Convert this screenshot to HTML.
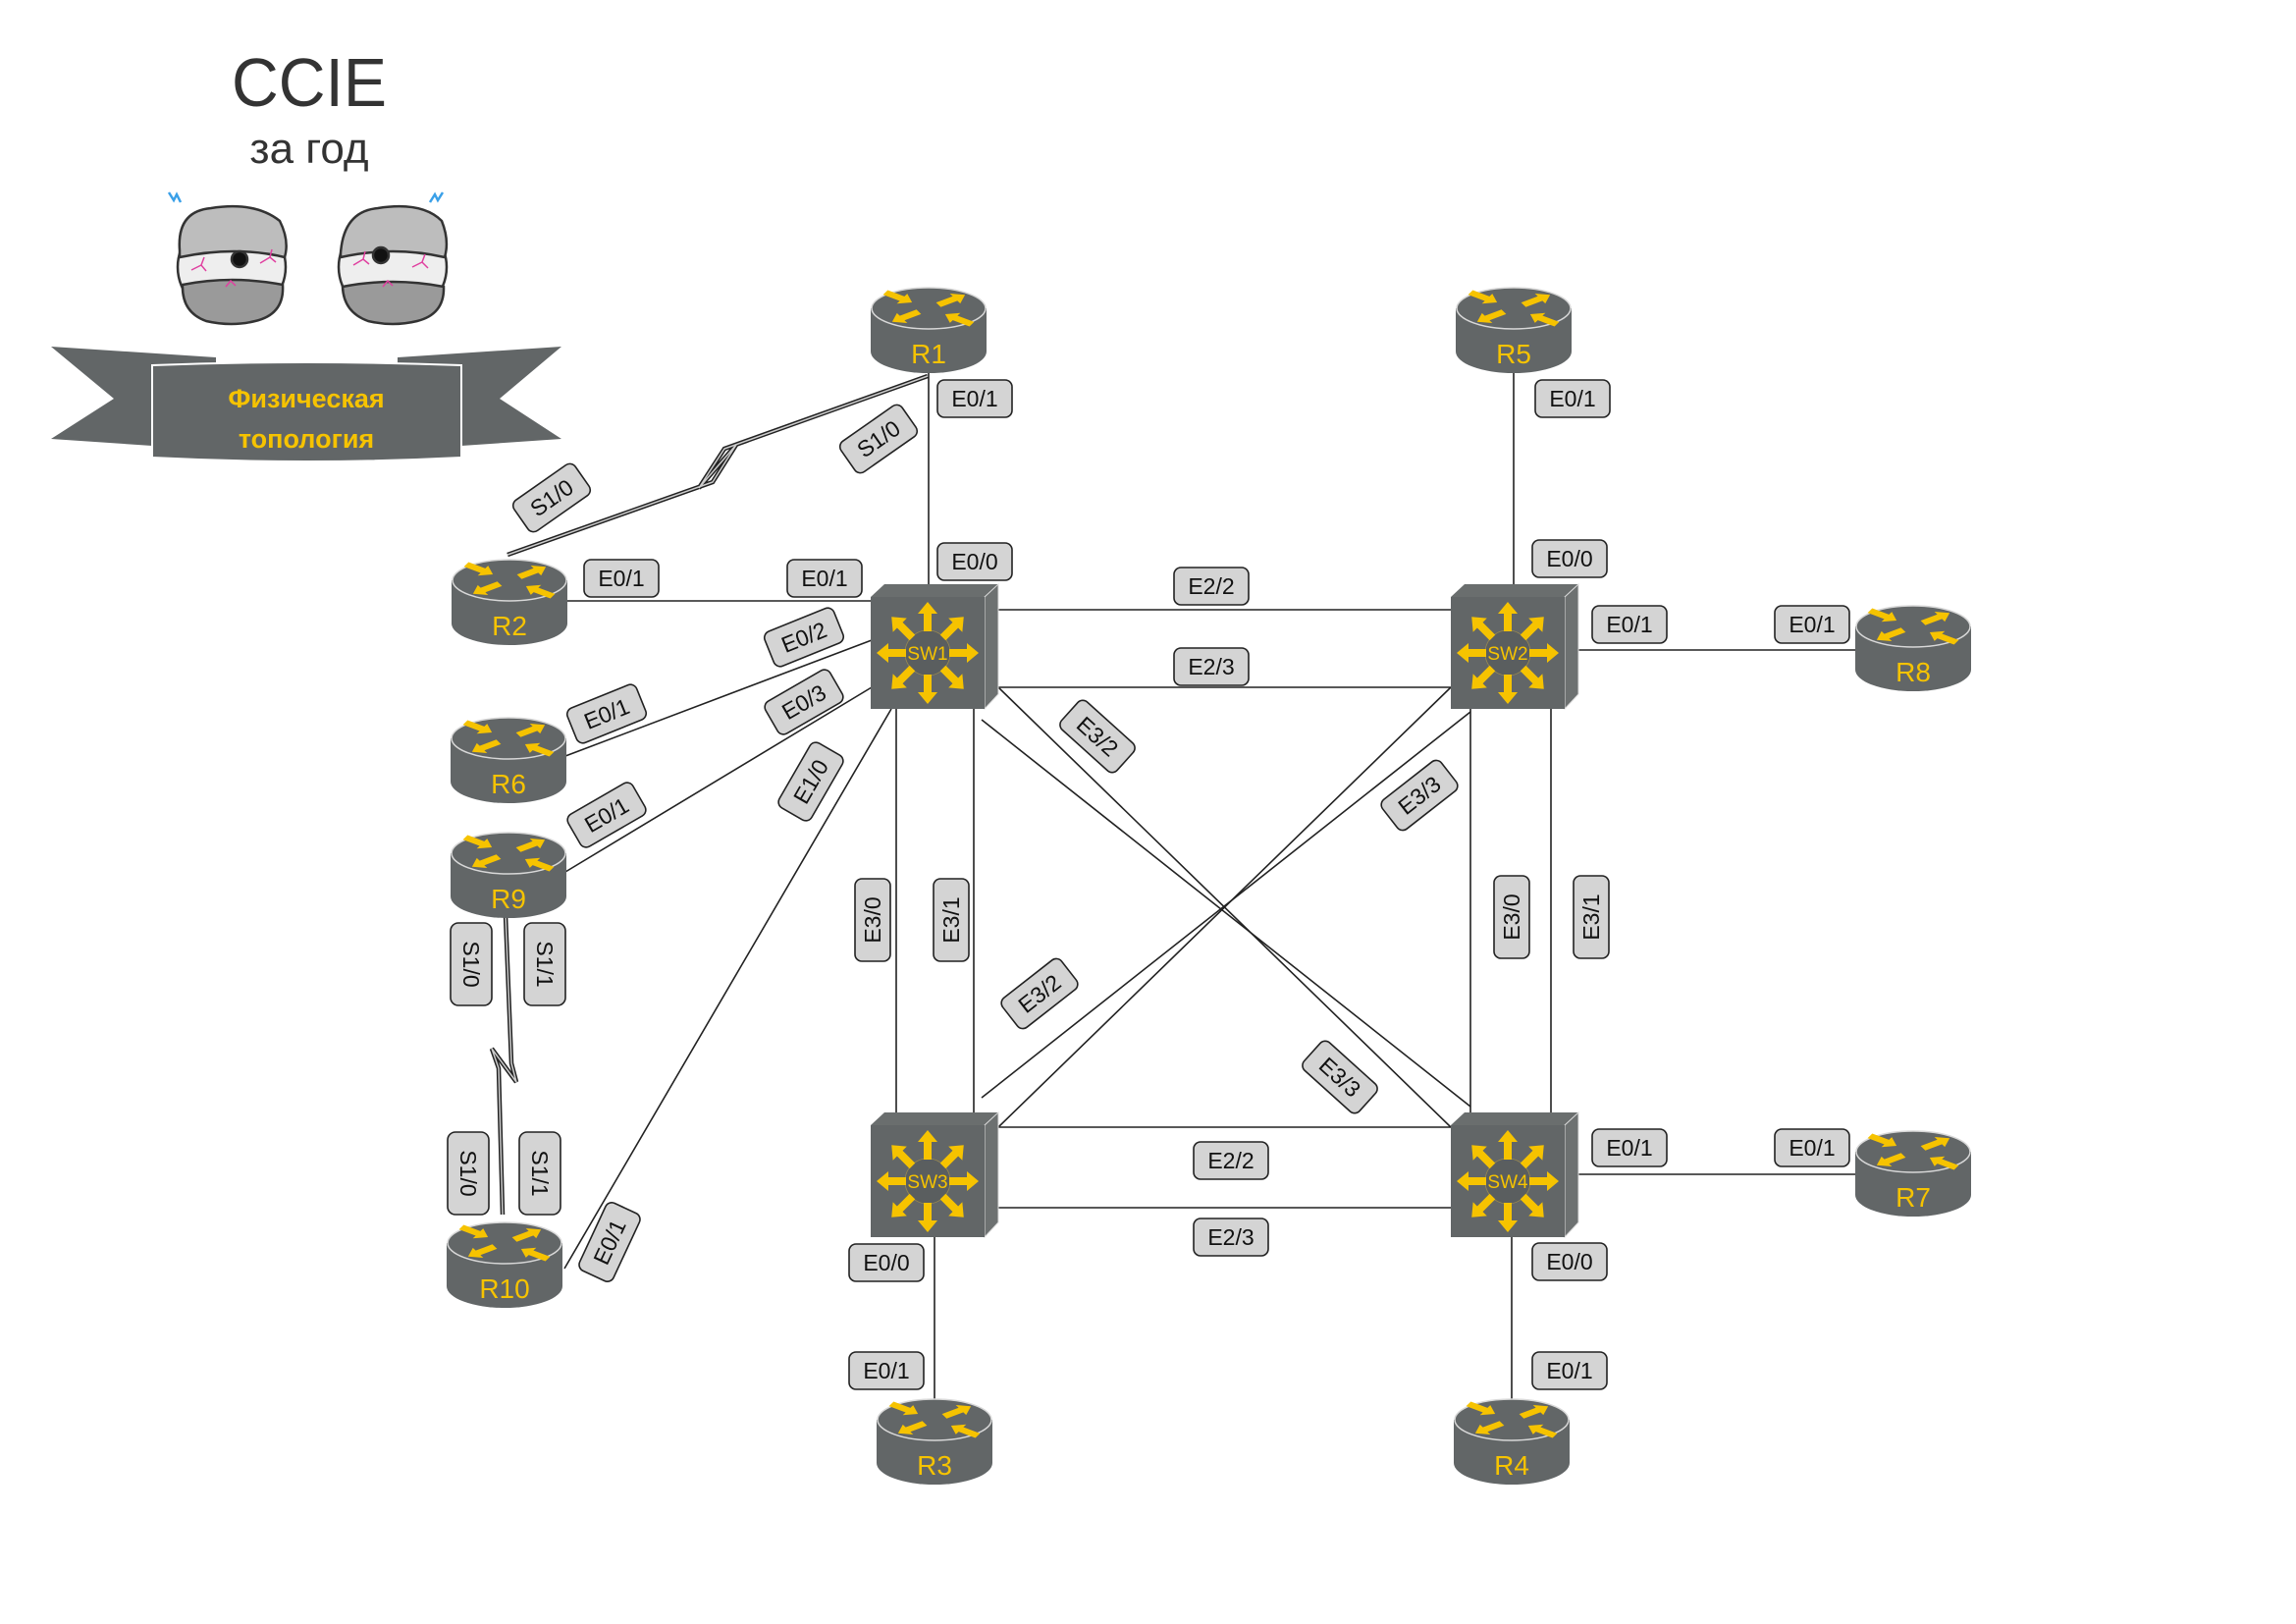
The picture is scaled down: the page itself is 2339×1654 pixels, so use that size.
<!DOCTYPE html>
<html><head><meta charset="utf-8"><style>
html,body{margin:0;padding:0;background:#fff;}
svg{display:block;}
.lb rect{fill:#d4d4d4;stroke:#222;stroke-width:1.6;}
.lb text{font-family:"Liberation Sans Narrow","Liberation Sans",sans-serif;font-size:23px;fill:#111;text-anchor:middle;dominant-baseline:central;}
.ln{stroke:#222;stroke-width:1.6;fill:none;}
.rt{font-family:"Liberation Sans Narrow","Liberation Sans",sans-serif;font-size:28px;fill:#f6c300;text-anchor:middle;}
.st{font-family:"Liberation Sans Narrow","Liberation Sans",sans-serif;font-size:19px;fill:#f6c300;text-anchor:middle;}
</style></head><body>
<svg width="2339" height="1654" viewBox="0 0 2339 1654" xmlns="http://www.w3.org/2000/svg">
<defs>
<path id="ra" d="M0,-4.5 L20,-4.5 L20,-10 L32,0 L20,10 L20,4.5 L0,4.5Z" fill="#f6c300"/>
<g id="rtr">
<path d="M0,22 L0,66 A59,22 0 0 0 118,66 L118,22 Z" fill="#626667"/>
<ellipse cx="59" cy="22" rx="58" ry="21" fill="#626667" stroke="#d8d8d8" stroke-width="1.5"/>
<g transform="translate(59,22) scale(1,0.6)">
<use href="#ra" transform="translate(-44,-27) rotate(32)"/>
<use href="#ra" transform="translate(10,-6) rotate(-32)"/>
<use href="#ra" transform="translate(-10,6) rotate(148)"/>
<use href="#ra" transform="translate(44,27) rotate(212)"/>
</g>
</g>
<g id="arw" fill="#f6c300"><path d="M-4,-22 L-4,-40 L-10,-40 L0,-52 L10,-40 L4,-40 L4,-22Z"/></g>
<g id="sw">
<path d="M0,13 L14,0 L130,0 L116,13Z" fill="#6a6e6e"/>
<path d="M116,13 L130,0 L130,112 L116,127Z" fill="#6d7171" stroke="#ddd" stroke-width="1"/>
<rect x="0" y="13" width="116" height="114" fill="#626667"/>
<circle cx="58" cy="70" r="23" fill="#5a5e5f" stroke="#9a8a50" stroke-width="0.8"/>
<g transform="translate(58,70)">
<use href="#arw"/><use href="#arw" transform="rotate(45)"/><use href="#arw" transform="rotate(90)"/><use href="#arw" transform="rotate(135)"/><use href="#arw" transform="rotate(180)"/><use href="#arw" transform="rotate(225)"/><use href="#arw" transform="rotate(270)"/><use href="#arw" transform="rotate(315)"/>
</g>
</g>
</defs>

<!-- title -->
<text x="315" y="108" font-family="Liberation Sans,sans-serif" font-size="70" fill="#333" text-anchor="middle" textLength="158" lengthAdjust="spacingAndGlyphs">CCIE</text>
<text x="315" y="166" font-family="Liberation Sans,sans-serif" font-size="44" fill="#333" text-anchor="middle">за год</text>

<!-- mascots -->
<g stroke="#333" stroke-width="2.5">
<ellipse cx="236" cy="272" rx="55" ry="52" fill="#eee"/>
<path d="M183,255 Q180,215 215,212 Q260,205 285,225 Q295,245 290,262 Q240,250 183,262Z" fill="#bdbdbd"/>
<path d="M186,290 Q236,280 288,290 Q290,320 260,327 Q236,333 210,327 Q185,318 186,290Z" fill="#9a9a9a"/>
<circle cx="244" cy="264" r="8" fill="#111"/>
<ellipse cx="400" cy="272" rx="55" ry="52" fill="#eee"/>
<path d="M347,258 Q350,215 385,212 Q430,205 450,225 Q458,245 453,262 Q400,250 347,262Z" fill="#bdbdbd"/>
<path d="M349,292 Q400,282 452,292 Q453,320 425,327 Q400,333 375,327 Q350,318 349,292Z" fill="#9a9a9a"/>
<circle cx="388" cy="260" r="8" fill="#111"/>
</g>
<g stroke="#e040a0" stroke-width="1.5" fill="none">
<path d="M195,275 l10,-5 l5,6 M205,270 l3,-8 M265,268 l10,-6 l6,5 M275,262 l2,-8 M230,292 l5,-6 l5,5"/>
<path d="M360,270 l10,-6 l6,5 M370,264 l2,-8 M420,272 l10,-5 l6,6 M430,267 l3,-8 M390,292 l5,-6 l5,5"/>
</g>
<path d="M172,196 l5,8 l3,-6 l4,8" stroke="#3aa0e8" stroke-width="2.5" fill="none"/>
<path d="M438,206 l5,-8 l3,6 l5,-8" stroke="#3aa0e8" stroke-width="2.5" fill="none"/>

<!-- banner -->
<g fill="#626667">
<polygon points="52,353 220,364 220,454 155,454 52,447 116,406"/>
<polygon points="572,353 405,364 405,454 470,454 572,447 509,406"/>
<path d="M155,372 Q312,366 470,372 L470,466 Q312,474 155,466Z" stroke="#fff" stroke-width="2"/>
</g>
<text x="312" y="415" font-family="Liberation Sans,sans-serif" font-weight="bold" font-size="27" fill="#f6c300" text-anchor="middle">Физическая</text>
<text x="312" y="456" font-family="Liberation Sans,sans-serif" font-weight="bold" font-size="27" fill="#f6c300" text-anchor="middle">топология</text>

<!-- links -->
<g class="ln">
<line x1="946" y1="380" x2="946" y2="608"/>
<line x1="577" y1="612" x2="888" y2="612"/>
<line x1="576" y1="770" x2="888" y2="652"/>
<line x1="576" y1="888" x2="888" y2="700"/>
<line x1="575" y1="1292" x2="908" y2="722"/>
<line x1="1017" y1="621" x2="1478" y2="621"/>
<line x1="1017" y1="700" x2="1478" y2="700"/>
<line x1="913" y1="722" x2="913" y2="1146"/>
<line x1="992" y1="722" x2="992" y2="1146"/>
<line x1="1498" y1="722" x2="1498" y2="1146"/>
<line x1="1580" y1="722" x2="1580" y2="1146"/>
<line x1="1017" y1="1148" x2="1478" y2="1148"/>
<line x1="1017" y1="1230" x2="1478" y2="1230"/>
<line x1="1017" y1="700" x2="1478" y2="1148"/>
<line x1="1000" y1="733" x2="1498" y2="1127"/>
<line x1="1478" y1="700" x2="1017" y2="1148"/>
<line x1="1498" y1="725" x2="1000" y2="1118"/>
<line x1="1542" y1="380" x2="1542" y2="608"/>
<line x1="1608" y1="662" x2="1890" y2="662"/>
<line x1="1608" y1="1196" x2="1890" y2="1196"/>
<line x1="952" y1="1260" x2="952" y2="1426"/>
<line x1="1540" y1="1260" x2="1540" y2="1426"/>
</g>
<!-- serial lines -->
<path d="M945,383 L738,457 L712,497 L750,453 L726,491 L517,565" fill="none" stroke="#222" stroke-width="4.5" stroke-linejoin="miter"/>
<path d="M945,383 L738,457 L712,497 L750,453 L726,491 L517,565" fill="none" stroke="#ccc" stroke-width="1.5"/>
<path d="M515,932 L521,1083 L526,1102 L501,1068 L508,1088 L512,1237" fill="none" stroke="#222" stroke-width="4.5"/>
<path d="M515,932 L521,1083 L526,1102 L501,1068 L508,1088 L512,1237" fill="none" stroke="#ccc" stroke-width="1.5"/>

<!-- routers -->
<use href="#rtr" x="887" y="292"/><text class="rt" x="946" y="370">R1</text>
<use href="#rtr" x="1483" y="292"/><text class="rt" x="1542" y="370">R5</text>
<use href="#rtr" x="460" y="569"/><text class="rt" x="519" y="647">R2</text>
<use href="#rtr" x="459" y="730"/><text class="rt" x="518" y="808">R6</text>
<use href="#rtr" x="459" y="847"/><text class="rt" x="518" y="925">R9</text>
<use href="#rtr" x="455" y="1244"/><text class="rt" x="514" y="1322">R10</text>
<use href="#rtr" x="1890" y="616"/><text class="rt" x="1949" y="694">R8</text>
<use href="#rtr" x="1890" y="1151"/><text class="rt" x="1949" y="1229">R7</text>
<use href="#rtr" x="893" y="1424"/><text class="rt" x="952" y="1502">R3</text>
<use href="#rtr" x="1481" y="1424"/><text class="rt" x="1540" y="1502">R4</text>

<!-- switches -->
<use href="#sw" x="887" y="595"/><text class="st" x="945" y="672">SW1</text>
<use href="#sw" x="1478" y="595"/><text class="st" x="1536" y="672">SW2</text>
<use href="#sw" x="887" y="1133"/><text class="st" x="945" y="1210">SW3</text>
<use href="#sw" x="1478" y="1133"/><text class="st" x="1536" y="1210">SW4</text>

<!-- labels -->
<g class="lb">
<g transform="translate(993,406)"><rect x="-38" y="-19" width="76" height="38" rx="7"/><text>E0/1</text></g>
<g transform="translate(895,447) rotate(-35)"><rect x="-38" y="-19" width="76" height="38" rx="7"/><text>S1/0</text></g>
<g transform="translate(562,507) rotate(-35)"><rect x="-38" y="-19" width="76" height="38" rx="7"/><text>S1/0</text></g>
<g transform="translate(633,589)"><rect x="-38" y="-19" width="76" height="38" rx="7"/><text>E0/1</text></g>
<g transform="translate(840,589)"><rect x="-38" y="-19" width="76" height="38" rx="7"/><text>E0/1</text></g>
<g transform="translate(993,572)"><rect x="-38" y="-19" width="76" height="38" rx="7"/><text>E0/0</text></g>
<g transform="translate(819,649) rotate(-22)"><rect x="-38" y="-19" width="76" height="38" rx="7"/><text>E0/2</text></g>
<g transform="translate(618,727) rotate(-22)"><rect x="-38" y="-19" width="76" height="38" rx="7"/><text>E0/1</text></g>
<g transform="translate(819,715) rotate(-30)"><rect x="-38" y="-19" width="76" height="38" rx="7"/><text>E0/3</text></g>
<g transform="translate(618,830) rotate(-30)"><rect x="-38" y="-19" width="76" height="38" rx="7"/><text>E0/1</text></g>
<g transform="translate(826,796) rotate(-60)"><rect x="-38" y="-19" width="76" height="38" rx="7"/><text>E1/0</text></g>
<g transform="translate(1118,750) rotate(42)"><rect x="-38" y="-19" width="76" height="38" rx="7"/><text>E3/2</text></g>
<g transform="translate(1234,597)"><rect x="-38" y="-19" width="76" height="38" rx="7"/><text>E2/2</text></g>
<g transform="translate(1234,679)"><rect x="-38" y="-19" width="76" height="38" rx="7"/><text>E2/3</text></g>
<g transform="translate(1599,569)"><rect x="-38" y="-19" width="76" height="38" rx="7"/><text>E0/0</text></g>
<g transform="translate(1602,406)"><rect x="-38" y="-19" width="76" height="38" rx="7"/><text>E0/1</text></g>
<g transform="translate(1660,636)"><rect x="-38" y="-19" width="76" height="38" rx="7"/><text>E0/1</text></g>
<g transform="translate(1846,636)"><rect x="-38" y="-19" width="76" height="38" rx="7"/><text>E0/1</text></g>
<g transform="translate(1446,810) rotate(-38)"><rect x="-38" y="-19" width="76" height="38" rx="7"/><text>E3/3</text></g>
<g transform="translate(889,937) rotate(-90)"><rect x="-42" y="-18" width="84" height="36" rx="7"/><text>E3/0</text></g>
<g transform="translate(969,937) rotate(-90)"><rect x="-42" y="-18" width="84" height="36" rx="7"/><text>E3/1</text></g>
<g transform="translate(1540,934) rotate(-90)"><rect x="-42" y="-18" width="84" height="36" rx="7"/><text>E3/0</text></g>
<g transform="translate(1621,934) rotate(-90)"><rect x="-42" y="-18" width="84" height="36" rx="7"/><text>E3/1</text></g>
<g transform="translate(480,982) rotate(90)"><rect x="-42" y="-21" width="84" height="42" rx="8"/><text>S1/0</text></g>
<g transform="translate(555,982) rotate(90)"><rect x="-42" y="-21" width="84" height="42" rx="8"/><text>S1/1</text></g>
<g transform="translate(1059,1012) rotate(-38)"><rect x="-38" y="-19" width="76" height="38" rx="7"/><text>E3/2</text></g>
<g transform="translate(1365,1097) rotate(42)"><rect x="-38" y="-19" width="76" height="38" rx="7"/><text>E3/3</text></g>
<g transform="translate(1254,1182)"><rect x="-38" y="-19" width="76" height="38" rx="7"/><text>E2/2</text></g>
<g transform="translate(1254,1260)"><rect x="-38" y="-19" width="76" height="38" rx="7"/><text>E2/3</text></g>
<g transform="translate(1660,1169)"><rect x="-38" y="-19" width="76" height="38" rx="7"/><text>E0/1</text></g>
<g transform="translate(1846,1169)"><rect x="-38" y="-19" width="76" height="38" rx="7"/><text>E0/1</text></g>
<g transform="translate(477,1195) rotate(90)"><rect x="-42" y="-21" width="84" height="42" rx="8"/><text>S1/0</text></g>
<g transform="translate(550,1195) rotate(90)"><rect x="-42" y="-21" width="84" height="42" rx="8"/><text>S1/1</text></g>
<g transform="translate(621,1265) rotate(-65)"><rect x="-38" y="-19" width="76" height="38" rx="7"/><text>E0/1</text></g>
<g transform="translate(903,1286)"><rect x="-38" y="-19" width="76" height="38" rx="7"/><text>E0/0</text></g>
<g transform="translate(1599,1285)"><rect x="-38" y="-19" width="76" height="38" rx="7"/><text>E0/0</text></g>
<g transform="translate(903,1396)"><rect x="-38" y="-19" width="76" height="38" rx="7"/><text>E0/1</text></g>
<g transform="translate(1599,1396)"><rect x="-38" y="-19" width="76" height="38" rx="7"/><text>E0/1</text></g>
</g>
</svg>
</body></html>
